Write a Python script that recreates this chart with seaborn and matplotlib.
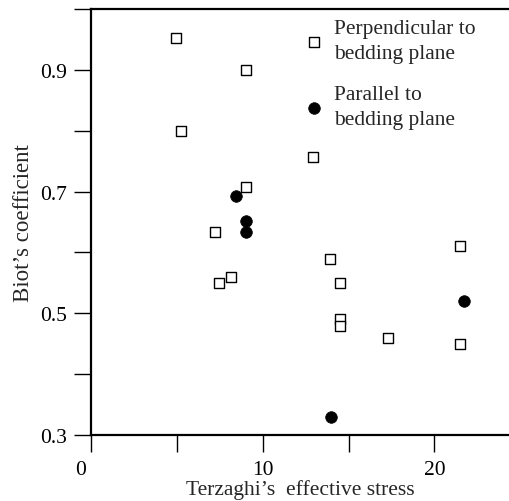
import matplotlib
matplotlib.use("Agg")
import matplotlib.pyplot as plt
import matplotlib.transforms as mtransforms
import seaborn as sns
import pandas as pd

perp_x = [4.95, 5.25, 9.0, 9.0, 7.2, 7.45, 8.15, 12.9, 13.9, 14.5, 14.5, 14.5, 17.3, 21.5, 21.5]
perp_y = [0.952, 0.80, 0.90, 0.707, 0.633, 0.549, 0.56, 0.757, 0.59, 0.549, 0.49, 0.479, 0.46, 0.61, 0.45]
par_x = [8.45, 9.0, 9.0, 14.0, 21.7]
par_y = [0.692, 0.651, 0.633, 0.33, 0.52]
labels = ["Perpendicular to\nbedding plane", "Parallel to\nbedding plane"]
x_major = [0, 10, 20]
x_minor = [5, 15]
y_major = [0.3, 0.5, 0.7, 0.9]
y_minor = [0.4, 0.6, 0.8, 1.0]

sns.set_style("white")
plt.rcParams['font.family'] = ['Liberation Serif', 'DejaVu Serif']

fig = plt.figure(figsize=(5.10, 5.02), dpi=100)
ax = fig.add_axes([91/510, 66/502, 419/510, 426/502])

df_perp = pd.DataFrame({"x": perp_x, "y": perp_y})
df_par = pd.DataFrame({"x": par_x, "y": par_y})
sns.scatterplot(data=df_perp, x="x", y="y", ax=ax, marker="s", s=62,
                facecolor="white", edgecolor="black", linewidth=1.0,
                label=labels[0], zorder=3)
sns.scatterplot(data=df_par, x="x", y="y", ax=ax, marker="o", s=70,
                color="black", edgecolor="black", linewidth=0.5,
                label=labels[1], zorder=3)

ax.set_xlim(0, 24.4)
ax.set_ylim(0.3, 1.0)
ax.set_xticks(x_major)
ax.set_xticklabels([str(v) for v in x_major])
ax.set_xticks(x_minor, minor=True)
ax.set_yticks(y_major)
ax.set_yticklabels([f"{v:.1f}" for v in y_major])
ax.set_yticks(y_minor, minor=True)

for side in ["left", "bottom", "top"]:
    ax.spines[side].set_visible(True)
    ax.spines[side].set_color("black")
    ax.spines[side].set_linewidth(1.6)
ax.spines["right"].set_visible(False)

ax.tick_params(axis="both", which="both", direction="out", length=12, width=1.0,
               color="black", labelsize=15.5, labelcolor="black")
ax.tick_params(axis="y", which="both", pad=5)
ax.tick_params(axis="x", which="both", pad=6)
ax.tick_params(axis="both", which="both", left=True, bottom=True)

# the "0" label sits a bit left of its tick in the reference
lbl0 = ax.get_xticklabels()[0]
lbl0.set_transform(lbl0.get_transform() +
                   mtransforms.ScaledTranslation(-10/100, 0, fig.dpi_scale_trans))

ax.set_xlabel("Terzaghi\u2019s  effective stress", fontsize=15.5, labelpad=0)
ax.set_ylabel("Biot\u2019s coefficient", fontsize=16.5, labelpad=5)

leg = ax.legend(loc="upper left", bbox_to_anchor=(0.46, 1.012), frameon=False,
                fontsize=15.5, handletextpad=0.25, labelspacing=1.05,
                borderpad=0.2, handlelength=1.4)
for t in leg.get_texts():
    t.set_linespacing(1.4)

fig.savefig("out.png", dpi=100)
